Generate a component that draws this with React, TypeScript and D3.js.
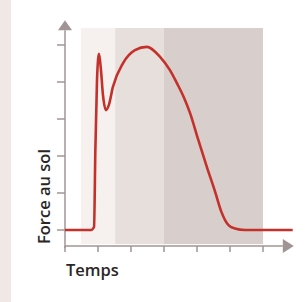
import * as d3 from 'd3';

// Force au sol vs Temps (unités arbitraires)
const timeTicks = [0, 1, 2, 3, 4, 5, 6];
const forceTicks = [0, 1, 2, 3, 4, 5];

// phases (début / fin en temps)
const phaseStart = [0.48, 1.52, 3.0];
const phaseEnd = [1.52, 3.0, 6.0];
const phaseTop = 5.46;
const phaseBottom = -0.38;

const curveTime = [0, 0.79, 0.88, 0.92, 0.97, 1.03, 1.09, 1.15, 1.24, 1.33, 1.45, 1.76, 2.12, 2.48, 2.88, 3.18, 3.39, 3.61, 3.79, 4.03, 4.3, 4.55, 4.73, 4.85, 4.97, 5.15, 5.45, 6.9];
const curveForce = [0, 0, 0.08, 2.16, 4.05, 4.76, 4.32, 3.65, 3.24, 3.38, 3.86, 4.51, 4.86, 4.95, 4.68, 4.32, 3.97, 3.57, 3.16, 2.46, 1.7, 1.03, 0.51, 0.27, 0.12, 0.04, 0, 0];

const xAxisEnd = 6.6;
const yAxisEnd = 5.4;
const yAxisStart = -0.43;

export default function App() {
  const width = 308;
  const height = 302;

  const x = d3.scaleLinear().domain([0, 6]).range([65, 263]);
  const y = d3.scaleLinear().domain([0, 5]).range([230, 45]);

  const phaseColors = ['#f6f1ef', '#e7dfdc', '#d8cecb'];
  const axisColor = '#a09593';

  const line = d3
    .line<number>()
    .x((_, i) => x(curveTime[i]))
    .y((d) => y(d))
    .curve(d3.curveMonotoneX);

  const x0 = x(0);
  const yBase = y(yAxisStart);
  const xArrowBase = x(xAxisEnd);
  const yArrowBase = y(yAxisEnd);

  return (
    <div style={{ position: 'absolute', left: 0, top: 0 }}>
      <svg width={width} height={height} style={{ display: 'block' }}>
        <rect x={0} y={0} width={width} height={height} fill="#ffffff" />
        <rect x={0} y={0} width={11} height={height} fill="#f0e8e4" />

        {phaseStart.map((s, i) => (
          <rect
            key={i}
            x={x(s)}
            y={y(phaseTop)}
            width={x(phaseEnd[i]) - x(s)}
            height={y(phaseBottom) - y(phaseTop)}
            fill={phaseColors[i]}
          />
        ))}

        {/* y axis */}
        <line x1={x0} x2={x0} y1={yBase + 2} y2={yArrowBase} stroke={axisColor} strokeWidth={1.5} />
        <path
          d={`M${x0},${yArrowBase - 10} L${x0 + 7},${yArrowBase} L${x0 - 7},${yArrowBase} Z`}
          fill={axisColor}
        />
        {forceTicks.map((f) => (
          <line key={f} x1={x0 - 8} x2={x0} y1={y(f)} y2={y(f)} stroke={axisColor} strokeWidth={1.5} />
        ))}

        {/* x axis */}
        <line x1={x0} x2={xArrowBase} y1={yBase} y2={yBase} stroke={axisColor} strokeWidth={1.5} />
        <path
          d={`M${xArrowBase + 11},${yBase} L${xArrowBase},${yBase - 7} L${xArrowBase},${yBase + 7} Z`}
          fill={axisColor}
        />
        {timeTicks.map((t) => (
          <line key={t} x1={x(t)} x2={x(t)} y1={yBase} y2={yBase + 6} stroke={axisColor} strokeWidth={1.5} />
        ))}

        <path d={line(curveForce) || ''} fill="none" stroke="#c4312b" strokeWidth={2.6} strokeLinejoin="round" />

        <text
          x={66}
          y={276}
          fontFamily="Open Sans"
          fontWeight={600}
          fontSize={16.5}
          fill="#2b2626"
        >
          Temps
        </text>
        <text
          transform="translate(50,244) rotate(-90)"
          fontFamily="Open Sans"
          fontWeight={600}
          fontSize={16.5}
          fill="#2b2626"
        >
          Force au sol
        </text>
      </svg>
    </div>
  );
}
